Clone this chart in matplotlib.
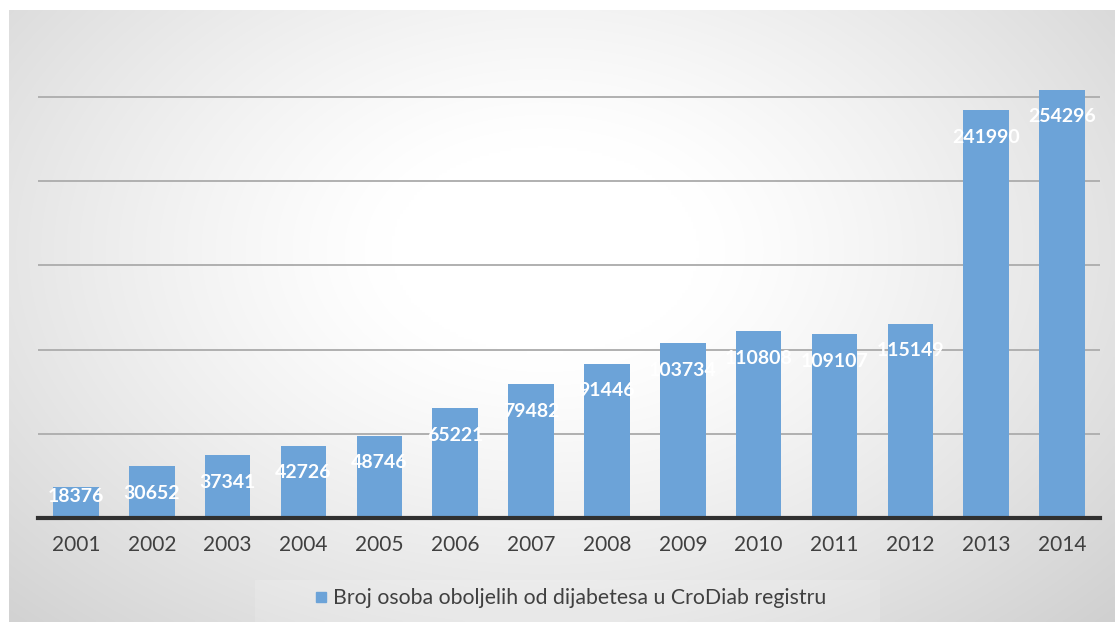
import numpy as np
import matplotlib
matplotlib.use("Agg")
import matplotlib.pyplot as plt
from matplotlib.patches import Rectangle

years = ["2001", "2002", "2003", "2004", "2005", "2006", "2007",
         "2008", "2009", "2010", "2011", "2012", "2013", "2014"]
values = [18376, 30652, 37341, 42726, 48746, 65221, 79482,
          91446, 103734, 110808, 109107, 115149, 241990, 254296]
legend_label = "Broj osoba oboljelih od dijabetesa u CroDiab registru"

W, H = 1115, 622
fig = plt.figure(figsize=(W / 100, H / 100), dpi=100)
fig.patch.set_facecolor("white")

# radial gradient background panel
bg = fig.add_axes([9 / W, 0, 1 - 9 / W, 1 - 10 / H], zorder=0)
xs = np.linspace(9, W, 400)
ys = np.linspace(10, H, 250)
X, Y = np.meshgrid(xs, ys)
d = np.sqrt(((X - 545) / 620) ** 2 + ((Y - 250) / 420) ** 2)
d = np.clip(d, 0, 1.3)
val = 1 - 0.19 * np.clip(d - 0.25, 0, None) ** 1.2 / (1.05 ** 1.2)
img = np.dstack([val, val, val])
bg.imshow(np.clip(img, 0, 1), aspect="auto", extent=[0, 1, 0, 1], origin="upper",
          interpolation="bilinear")
bg.add_patch(Rectangle(((255 - 9) / (W - 9), 0), 625 / (W - 9), 42 / (H - 10),
                       transform=bg.transAxes, color="white", alpha=0.15, lw=0))
bg.axis("off")

ax = fig.add_axes([38 / W, (H - 518) / H, 1062 / W, (518 - 80) / H], zorder=1)
ax.patch.set_alpha(0)
x = np.arange(len(years))
ax.bar(x, values, width=0.6, color="#6ca3d8", zorder=2)
ax.set_xlim(-0.5, len(years) - 0.5)
ax.set_ylim(0, 260000)

for gy in [50000, 100000, 150000, 200000, 250000]:
    ax.axhline(gy, color="#b0b0b0", lw=1.4, zorder=1)
ax.axhline(0, color="#303030", lw=3, zorder=3, clip_on=False)

for s in ax.spines.values():
    s.set_visible(False)
ax.set_yticks([])
ax.set_xticks(x)
ax.set_xticklabels(years, fontsize=15, color="#404040", family="Lato")
ax.tick_params(axis="x", length=0, pad=12)

for xi, v in zip(x, values):
    ly = max(v - 16000, 12800)
    ax.text(xi, ly, str(v), ha="center", va="center", color="white",
            fontsize=14, fontweight="bold", family="Lato", zorder=4)

# legend
fig.patches.append(Rectangle((316 / W, (H - 602) / H), 10 / W, 10 / H,
                             transform=fig.transFigure, color="#6ca3d8"))
fig.text(333 / W, (H - 598) / H, legend_label, ha="left", va="center",
         fontsize=15.3, color="#404040", family="Lato")

fig.savefig("out.png", dpi=100)
